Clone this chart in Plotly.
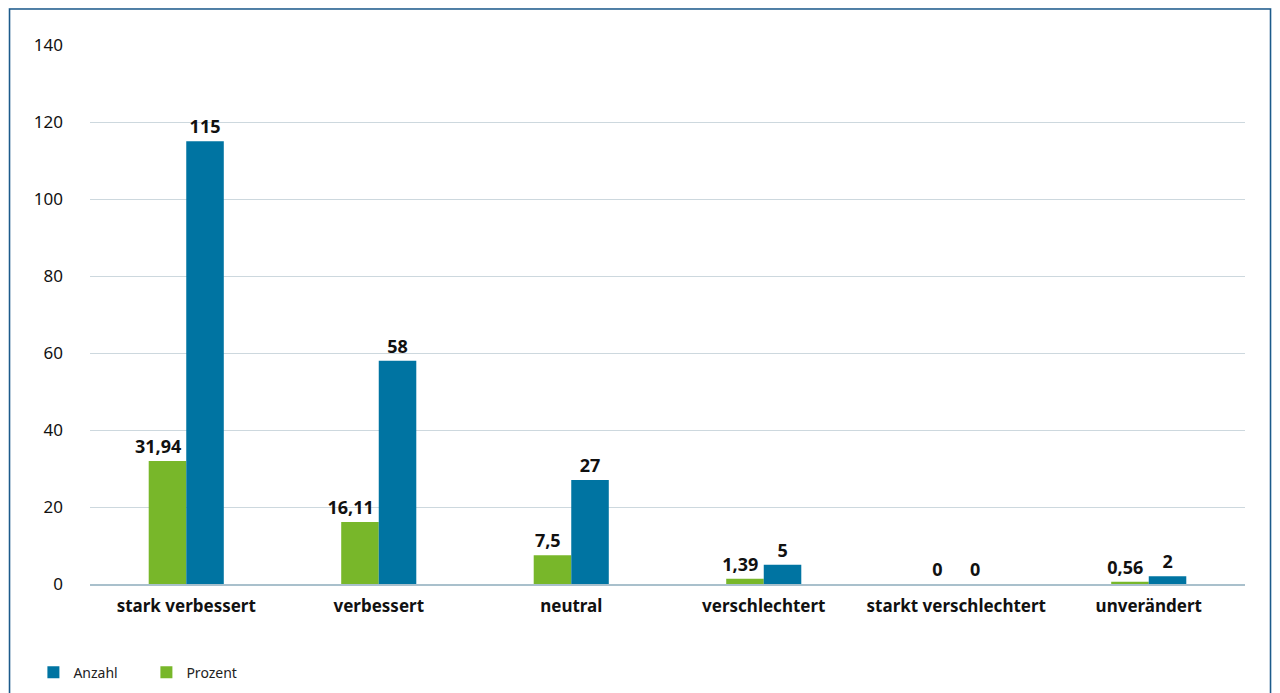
import plotly.graph_objects as go

# data
categories = ["stark verbessert", "verbessert", "neutral", "verschlechtert",
              "starkt verschlechtert", "unverändert"]
prozent = [31.94, 16.11, 7.5, 1.39, 0, 0.56]
anzahl = [115, 58, 27, 5, 0, 2]
prozent_labels = ["31,94", "16,11", "7,5", "1,39", "0", "0,56"]
anzahl_labels = ["115", "58", "27", "5", "0", "2"]
y_ticks = [0, 20, 40, 60, 80, 100, 120, 140]

GREEN = "#78b72a"
BLUE = "#0074a2"
FONT = "Noto Sans"

# page body adds 8px, so the figure is sized to the card
W, H = 1264, 685
L, R, T, B = 81.5, 26.5, 37, 109
pw, ph = W - L - R, H - T - B

# green labels sit a bit left of their bars in the original
NBSP = "\u00a0"
green_text = [t + NBSP * (4 if len(t) > 4 else 2) if t != "0" else t
              for t in prozent_labels]

fig = go.Figure()

fig.add_trace(go.Bar(
    x=categories, y=prozent, name="Prozent",
    marker=dict(color=GREEN, line_width=0),
    text=green_text, textposition="outside", cliponaxis=False,
    constraintext="none",
    textfont=dict(family=FONT, size=18, color="#111111", weight="bold"),
    legendrank=2,
))
fig.add_trace(go.Bar(
    x=categories, y=anzahl, name="Anzahl",
    marker=dict(color=BLUE, line_width=0),
    text=anzahl_labels, textposition="outside", cliponaxis=False,
    constraintext="none",
    textfont=dict(family=FONT, size=18, color="#111111", weight="bold"),
    legendrank=1,
))

# white card with a dark blue border
fig.add_shape(
    type="rect", xref="paper", yref="paper",
    x0=(1 - L) / pw, x1=(W - 1 - L) / pw,
    y0=-(B + 20) / ph, y1=(ph + T - 1) / ph,
    fillcolor="white", line=dict(color="#1d5a8a", width=1.5),
    layer="below",
)

fig.update_layout(
    width=W, height=H,
    margin=dict(l=L, r=R, t=T, b=B, autoexpand=False),
    paper_bgcolor="#e4eff7",
    plot_bgcolor="rgba(0,0,0,0)",
    barmode="group", bargap=0.61, bargroupgap=0,
    separators=",.",
    font=dict(family=FONT, color="#111111"),
    showlegend=True,
    legend=dict(
        orientation="h", x=-0.049, y=-0.135, xanchor="left", yanchor="top",
        font=dict(family=FONT, size=14, color="#222222"),
        bgcolor="rgba(0,0,0,0)", entrywidth=68,
    ),
    xaxis=dict(
        showgrid=False, showline=True, linecolor="#a9c0cc", linewidth=1.5,
        tickfont=dict(family=FONT, size=17, color="#111111", weight="bold"),
        ticks="", ticklabelstandoff=6,
    ),
    yaxis=dict(
        range=[0, 140], tickvals=y_ticks, showgrid=True,
        gridcolor="#cdd8de", gridwidth=1, zeroline=False,
        tickfont=dict(family=FONT, size=17, color="#111111"),
        ticklabelstandoff=26,
    ),
)

fig.write_html("out.html")
